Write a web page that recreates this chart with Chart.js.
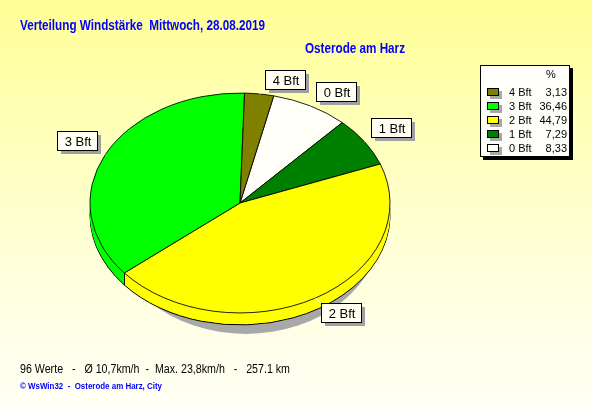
<!DOCTYPE html>
<html><head><meta charset="utf-8">
<script src="https://cdn.jsdelivr.net/npm/chart.js@4/dist/chart.umd.min.js"></script>
<style>html,body{margin:0;padding:0;background:#FFFFF0;overflow:hidden}canvas{display:block}</style>
</head><body>
<canvas id="c" width="592" height="407"></canvas>
<script>
// ---- data ----
const titleText = 'Verteilung Windstärke  Mittwoch, 28.08.2019';
const stationText = 'Osterode am Harz';
const categories = ['4 Bft', '3 Bft', '2 Bft', '1 Bft', '0 Bft'];
const percents = [3.13, 36.46, 44.79, 7.29, 8.33];
const sliceColors = ['#808000', '#00FF00', '#FFFF00', '#008000', '#FFFFF7'];
const summaryText = '96 Werte   -   Ø 10,7km/h  -  Max. 23,8km/h   -   257.1 km';
const footerText = '© WsWin32  -  Osterode am Harz, City';

// pie is drawn clockwise 0 Bft .. 4 Bft
const pieOrder = categories.map((_, i) => i).reverse();
const pieLabels = pieOrder.map(i => categories[i]);
const pieValues = pieOrder.map(i => percents[i]);
const pieColors = pieOrder.map(i => sliceColors[i]);

const SY = 0.733, DEPTH = 12;
const FONT = '"Liberation Sans", Arial, sans-serif';
function ellXf(ctx, cx, cy, dy) { ctx.translate(cx, cy + dy); ctx.scale(1, SY); ctx.translate(-cx, -cy); }
const fmt = v => v.toFixed(2).replace('.', ',');

const pie3d = {
  id: 'pie3d',
  beforeDraw(chart) {
    const ctx = chart.ctx;
    const g = ctx.createLinearGradient(0, 0, 0, chart.height);
    g.addColorStop(0, '#FFFF96');
    g.addColorStop(0.55, '#FFFFD2');
    g.addColorStop(1, '#FFFFF6');
    ctx.save(); ctx.fillStyle = g; ctx.fillRect(0, 0, chart.width, chart.height); ctx.restore();
  },
  beforeDatasetsDraw(chart) {
    const ctx = chart.ctx;
    const arcs = chart.getDatasetMeta(0).data;
    const cx = arcs[0].x, cy = arcs[0].y, r = arcs[0].outerRadius;
    // shadow
    ctx.save();
    ctx.fillStyle = '#A8A8A8';
    ctx.beginPath();
    ctx.ellipse(cx + 6, cy + DEPTH + 9, r - 14, r * SY, 0, 0, 2 * Math.PI);
    ctx.fill();
    ctx.restore();
    // side
    for (let k = DEPTH; k >= 1; k--) {
      arcs.forEach(a => {
        ctx.save(); ellXf(ctx, cx, cy, k);
        ctx.beginPath(); ctx.moveTo(cx, cy); ctx.arc(cx, cy, r, a.startAngle, a.endAngle); ctx.closePath();
        ctx.fillStyle = a.options.backgroundColor; ctx.fill();
        let outline = false;
        if (k === DEPTH) { ctx.beginPath(); ctx.arc(cx, cy, r, a.startAngle, a.endAngle); outline = true; }
        ctx.restore();
        if (outline) { ctx.strokeStyle = '#000'; ctx.lineWidth = 1; ctx.stroke(); }
      });
    }
    // vertical edges on the front side
    ctx.save(); ctx.strokeStyle = '#000'; ctx.lineWidth = 1;
    arcs.forEach(a => {
      const s = Math.sin(a.startAngle);
      if (s > 0.05) {
        const px = Math.round(cx + r * Math.cos(a.startAngle)) + 0.5, py = cy + r * SY * s;
        ctx.beginPath(); ctx.moveTo(px, py); ctx.lineTo(px, py + DEPTH); ctx.stroke();
      }
    });
    ctx.restore();
    ctx.save(); ellXf(ctx, cx, cy, 0);
  },
  afterDatasetsDraw(chart) {
    const ctx = chart.ctx;
    ctx.restore();
    const arcs = chart.getDatasetMeta(0).data;
    // slice labels
    ctx.save();
    ctx.font = '13px ' + FONT;
    arcs.forEach((a, i) => {
      const mid = (a.startAngle + a.endAngle) / 2;
      const ax = a.x + a.outerRadius * Math.cos(mid), ay = a.y + a.outerRadius * SY * Math.sin(mid);
      const txt = chart.data.labels[i];
      const w = Math.round(ctx.measureText(txt).width + 13), h = 19;
      const right = Math.cos(mid) >= 0, top = Math.sin(mid) < 0;
      const bx = Math.round(right ? ax + 6 : ax - 8 - w), by = Math.round(top ? ay - 5 - h : ay + 5);
      // leader
      ctx.strokeStyle = '#FFFFFF'; ctx.lineWidth = 1;
      ctx.beginPath(); ctx.moveTo(ax, ay);
      ctx.lineTo(right ? bx : bx + w, top ? by + h : by); ctx.stroke();
      // shadow
      ctx.fillStyle = '#A0A0A0'; ctx.fillRect(bx + 4, by + 4, w, h);
      ctx.fillStyle = '#FFFFF2'; ctx.fillRect(bx, by, w, h);
      ctx.strokeStyle = '#000'; ctx.strokeRect(bx + 0.5, by + 0.5, w, h);
      ctx.fillStyle = '#000'; ctx.textAlign = 'center'; ctx.textBaseline = 'middle';
      ctx.fillText(txt, bx + w / 2 + 1, by + h / 2 + 1.5);
    });
    ctx.restore();
  },
  afterDraw(chart) {
    const ctx = chart.ctx;
    ctx.save();
    // titles
    ctx.fillStyle = '#0000FF'; ctx.textBaseline = 'alphabetic'; ctx.textAlign = 'left';
    ctx.font = 'bold 14px ' + FONT;
    ctx.fillText(titleText, 20, 30, 245);
    ctx.fillText(stationText, 305, 53, 100);
    // footer
    ctx.fillStyle = '#000';
    ctx.font = '12px ' + FONT;
    ctx.fillText(summaryText, 20, 373, 270);
    ctx.fillStyle = '#0000FF';
    ctx.font = 'bold 9px ' + FONT;
    ctx.fillText(footerText, 20, 389, 142);
    // legend box
    const lx = 480, ly = 65, lw = 90, lh = 92;
    ctx.fillStyle = '#000'; ctx.fillRect(lx + 3, ly + 3, lw, lh);
    ctx.fillStyle = '#FFFFFA'; ctx.fillRect(lx, ly, lw, lh);
    ctx.strokeStyle = '#000'; ctx.lineWidth = 1; ctx.strokeRect(lx + 0.5, ly + 0.5, lw - 1, lh - 1);
    ctx.font = '11px ' + FONT; ctx.fillStyle = '#000'; ctx.textBaseline = 'middle';
    ctx.textAlign = 'center'; ctx.fillText('%', 551, 75);
    categories.forEach((c, i) => {
      const yc = 92 + i * 14;
      ctx.fillStyle = '#A8A8A8'; ctx.fillRect(490, yc - 1, 12, 8);
      ctx.fillStyle = sliceColors[i]; ctx.fillRect(487, yc - 4, 12, 8);
      ctx.strokeStyle = '#000'; ctx.strokeRect(487.5, yc - 3.5, 11, 7);
      ctx.fillStyle = '#000';
      ctx.textAlign = 'left'; ctx.fillText(c, 509, yc + 1);
      ctx.textAlign = 'right'; ctx.fillText(fmt(percents[i]), 567, yc + 1);
    });
    ctx.restore();
  }
};

new Chart(document.getElementById('c'), {
  type: 'pie',
  data: {
    labels: pieLabels,
    datasets: [{
      data: pieValues,
      backgroundColor: pieColors,
      borderColor: '#000000',
      borderWidth: 1,
      clip: false
    }]
  },
  options: {
    responsive: false,
    animation: false,
    devicePixelRatio: 1,
    rotation: 13,
    radius: 150,
    layout: { padding: { left: 90, right: 202, top: 53, bottom: 54 } },
    plugins: { legend: { display: false }, title: { display: false }, tooltip: { enabled: false } },
    events: []
  },
  plugins: [pie3d]
});
</script>
</body></html>
